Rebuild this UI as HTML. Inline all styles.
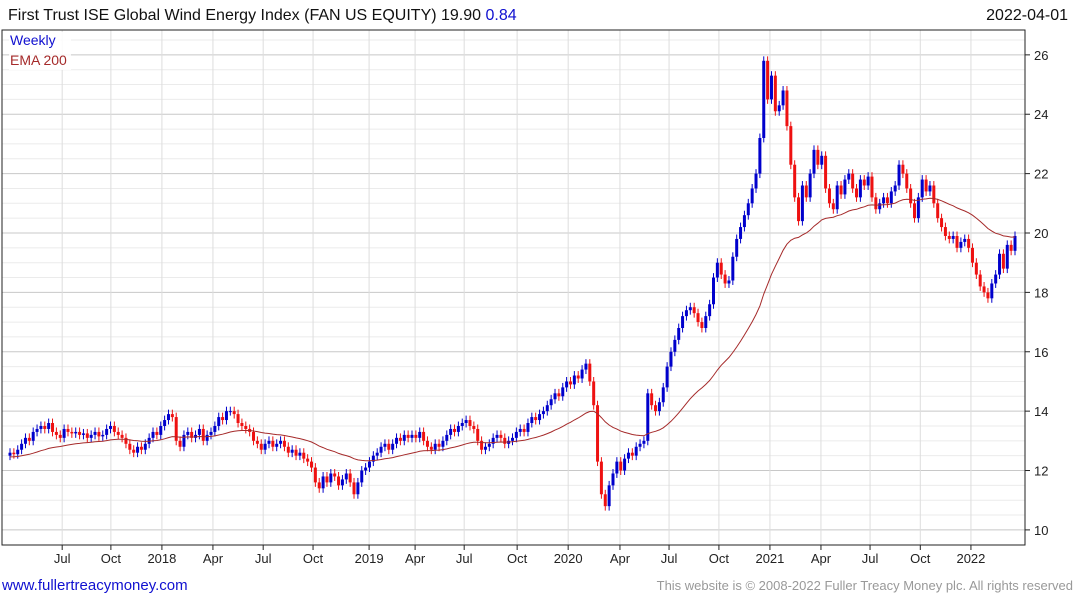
<!DOCTYPE html>
<html><head><meta charset="utf-8"><style>
html,body{margin:0;padding:0;background:#fff;width:1075px;height:600px;overflow:hidden;font-family:"Liberation Sans",sans-serif}
svg{display:block}
</style></head><body>
<svg id="chart" width="1075" height="600" xmlns="http://www.w3.org/2000/svg" font-family="Liberation Sans, sans-serif">
<text x="8" y="20" font-size="16" fill="#111">First Trust ISE Global Wind Energy Index (FAN US EQUITY) 19.90 <tspan fill="#1010d0">0.84</tspan></text>
<text x="1068" y="20" font-size="16" fill="#111" text-anchor="end">2022-04-01</text>
<g id="grid"></g>
<g id="candles"></g>
<polyline id="ema" fill="none" stroke="#a52a2a" stroke-width="1"/>
<rect x="2" y="30" width="1023" height="515" fill="none" stroke="#222" stroke-width="1"/>
<rect x="9" y="32" width="62" height="38" fill="#fff" opacity="0.85"/>
<text x="10" y="45" font-size="14" fill="#1010d0">Weekly</text>
<text x="10" y="65" font-size="14" fill="#a52a2a">EMA 200</text>
<g id="yaxis"></g>
<g id="xaxis"></g>
<text x="2" y="590" font-size="15" fill="#1010d0">www.fullertreacymoney.com</text>
<text x="1073" y="590" font-size="13" fill="#999" text-anchor="end">This website is © 2008-2022 Fuller Treacy Money plc. All rights reserved</text>
</svg>
<script>
const closes = [
12.6,12.55,12.7,12.9, 13.1,13.0,13.3,13.4, 13.5,13.4,13.6,13.3,13.2, 13.1,13.4,13.3,13.25, 13.3,13.2,13.25,13.1, 13.2,13.3,13.15,13.2,13.4, 13.5,13.3,13.2,13.1, 12.9,12.7,12.6,12.8, 12.7,12.9,13.1,13.3,13.2,
13.5,13.7,13.9,13.8, 13.0,12.8,13.2,13.3, 13.1,13.2,13.4,13.0,13.2, 13.3,13.5,13.8,13.7, 14.0,14.0,13.9,13.6, 13.5,13.4,13.3,13.0,12.9, 12.7,12.9,13.0,12.8, 12.9,13.0,12.8,12.6,12.7, 12.5,12.6,12.4,12.3, 12.1,11.6,11.4,11.8, 11.6,11.9,11.8,11.5,11.7, 11.9,11.6,11.2,11.6,
12.0,12.1,12.3,12.5, 12.6,12.8,12.9,12.7, 12.9,13.1,13.0,13.2,13.1, 13.2,13.1,13.3,13.0, 12.8,12.7,12.9,12.8,13.0, 13.2,13.4,13.3,13.5, 13.6,13.7,13.5,13.4, 13.0,12.7,12.8,12.9,13.1, 13.2,13.1,12.9,13.0, 13.1,13.3,13.4,13.3, 13.6,13.8,13.7,13.9,14.0, 14.2,14.4,14.6,14.5,
14.8,15.0,14.9,15.2,15.1, 15.4,15.6,15.0,14.2, 12.3,11.2,10.8,11.5, 11.9,12.3,12.0,12.4, 12.6,12.5,12.8,12.9,13.0, 14.6,14.2,14.0,14.3, 14.8,15.5,16.0,16.4,16.8, 17.2,17.4,17.5,17.3, 17.0,16.8,17.2,17.6, 18.5,19.0,18.6,18.3,18.4, 19.2,19.8,20.2,20.6, 21.0,21.5,22.0,23.2,
25.8,24.5,25.3,24.1,24.3, 24.8,23.6,22.3,21.2, 20.4,21.6,21.2,22.0, 22.8,22.3,22.6,21.5,21.0, 20.8,21.6,21.3,21.8, 22.0,21.5,21.2,21.8, 21.6,21.9,21.2,20.8,21.0, 21.2,21.0,21.4,21.6, 22.3,22.0,21.5,21.0, 20.5,21.2,21.8,21.4,21.6, 21.0,20.5,20.2,19.9, 19.8,19.9,19.5,19.7,19.8,
19.5,19.0,18.6,18.2, 18.0,17.8,18.3,18.6, 19.3,18.8,19.6,19.4,19.9
];
const firstOpen = 12.5;
const emaSeed = 12.45;
const emaPeriod = 40;
const yTicks = [10,12,14,16,18,20,22,24,26];
const xLabels = ["Jul","Oct","2018","Apr","Jul","Oct","2019","Apr","Jul","Oct","2020","Apr","Jul","Oct","2021","Apr","Jul","Oct","2022"];
const xLabelWeeks = [13.5,26.1,39.3,52.5,65.5,78.4,92.9,104.8,117.5,131.2,144.4,157.8,170.5,183.4,196.6,209.8,222.5,235.5,248.6];

const NS="http://www.w3.org/2000/svg";
const y = p => 233 - (p-20)*29.69;
const x = i => 10 + i*(1005/(closes.length-1));
function mk(tag, attrs, parent){const e=document.createElementNS(NS,tag);for(const k in attrs)e.setAttribute(k,attrs[k]);parent.appendChild(e);return e;}

const grid=document.getElementById('grid');
for(let v=10;v<=26.5;v+=0.5){
  const major = Math.abs(v%2)<1e-9;
  const l=mk('line',{x1:2,x2:1025,y1:y(v),y2:y(v),stroke:major?'#c8c8c8':'#ebebeb','stroke-width':1},grid);
  
  
}
const ya=document.getElementById('yaxis');
yTicks.forEach(v=>{
  const t=mk('text',{x:1034,y:y(v)+5,'font-size':13,fill:'#222'},ya);
  t.textContent=v;
  
  
  const tk=mk('line',{x1:1025,x2:1030,y1:y(v),y2:y(v),stroke:'#222'},ya);
  
  
});
const xa=document.getElementById('xaxis');
xLabels.forEach((s,k)=>{
  const xx=x(xLabelWeeks[k]);
  const g=mk('line',{x1:xx,x2:xx,y1:30,y2:545,stroke:'#dddddd'},grid);
  
  
  const t=mk('text',{x:xx,y:563,'font-size':13,fill:'#222','text-anchor':'middle'},xa);
  t.textContent=s;
  
  
  const tk=mk('line',{x1:xx,x2:xx,y1:545,y2:550,stroke:'#222'},xa);
  
  
});

const cg=document.getElementById('candles');
let prev=firstOpen;
closes.forEach((c,i)=>{
  const o=prev, up=c>=o, col=up?'#0000cc':'#ee1111';
  const hi=Math.max(o,c)+0.15, lo=Math.min(o,c)-0.15;
  const xx=x(i);
  const w=mk('line',{x1:xx,x2:xx,y1:y(hi),y2:y(lo),stroke:col,'stroke-width':1},cg);
  
  
  const top=y(Math.max(o,c)), bot=y(Math.min(o,c));
  const b=mk('rect',{x:xx-1.5,y:top,width:3,height:Math.max(1,bot-top),fill:col},cg);
  
  
  prev=c;
});

let e=emaSeed; const a=2/(emaPeriod+1); const pts=[];
closes.forEach((c,i)=>{e=e+a*(c-e);pts.push(x(i).toFixed(1)+','+y(e).toFixed(1));});
document.getElementById('ema').setAttribute('points',pts.join(' '));
</script>
</body></html>
